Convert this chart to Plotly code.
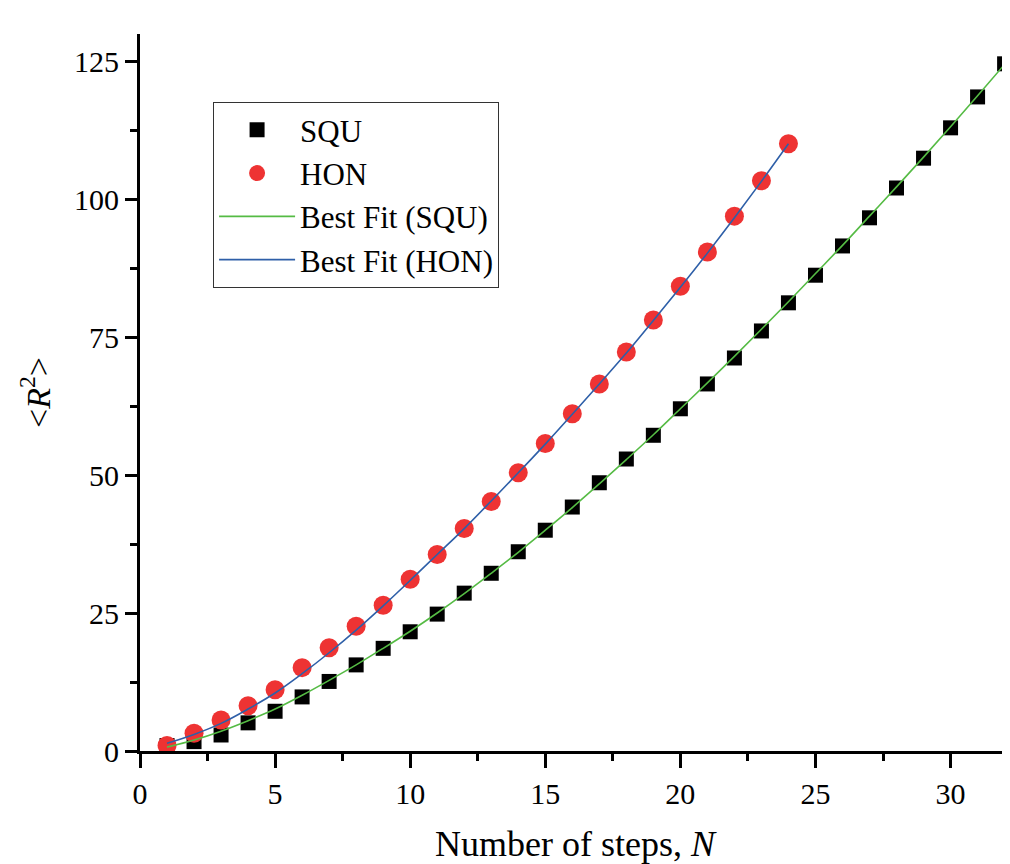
import plotly.graph_objects as go

# Data
n_squ = list(range(1, 33))
r2_squ = [1.0, 1.7, 2.9, 5.1, 7.2, 9.8, 12.6, 15.6, 18.6, 21.6, 24.8, 28.6, 32.2, 36.1, 40.0, 44.2,
          48.6, 52.9, 57.2, 62.0, 66.5, 71.2, 76.1, 81.2, 86.2, 91.5, 96.6, 102.0, 107.4, 112.9, 118.5, 124.5]
n_hon = list(range(1, 25))
r2_hon = [1.0, 3.2, 5.6, 8.2, 11.1, 15.1, 18.7, 22.6, 26.4, 31.1, 35.6, 40.3, 45.2, 50.4, 55.7, 61.1,
          66.5, 72.3, 78.1, 84.2, 90.4, 96.9, 103.3, 110.0]
fit_squ = [0.7, 2.0, 3.6, 5.5, 7.6, 10.1, 12.8, 15.6, 18.6, 21.7, 25.0, 28.5, 32.2, 36.0, 40.0, 44.1,
           48.4, 52.8, 57.3, 62.0, 66.7, 71.5, 76.4, 81.4, 86.5, 91.6, 96.9, 102.2, 107.6, 113.1, 118.7, 124.4]
fit_hon = [1.4, 3.0, 5.0, 7.6, 10.5, 14.0, 17.8, 21.9, 26.3, 30.9, 35.6, 40.3, 45.3, 50.4, 55.6, 61.0,
           66.5, 72.1, 78.0, 84.0, 90.2, 96.6, 103.2, 110.0]

x_range = [0, 32.2]
y_range = [0, 129.9]

FONT = "Liberation Serif"

fig = go.Figure()
fig.add_trace(go.Scatter(x=n_squ, y=r2_squ, mode="markers", name="SQU",
                         marker=dict(symbol="square", size=15, color="black",
                                     line=dict(width=0))))
fig.add_trace(go.Scatter(x=n_hon, y=r2_hon, mode="markers", name="HON",
                         marker=dict(symbol="circle", size=19, color="#EE3333",
                                     line=dict(width=0))))
fig.add_trace(go.Scatter(x=n_squ, y=fit_squ, mode="lines", name="Best Fit (SQU)",
                         line=dict(color="#55BB44", width=1.6, shape="spline")))
fig.add_trace(go.Scatter(x=n_hon, y=fit_hon, mode="lines", name="Best Fit (HON)",
                         line=dict(color="#2E5FA8", width=1.6, shape="spline")))

# the page body adds an 8px offset, so the figure is sized/margined to compensate
fig.update_layout(
    width=1002, height=856,
    margin=dict(l=132, r=0, t=26, b=113),
    paper_bgcolor="white", plot_bgcolor="white",
    font=dict(family=FONT, color="black", size=30),
    showlegend=True,
    legend=dict(x=0.084, y=0.905, xanchor="left", yanchor="top",
                bgcolor="white", bordercolor="#333333", borderwidth=1,
                font=dict(family=FONT, size=31), itemwidth=76,
                tracegroupgap=0),
    xaxis=dict(range=x_range, dtick=5, tick0=0, showgrid=False, zeroline=False,
               automargin=False,
               showline=True, linecolor="black", linewidth=3,
               ticks="outside", ticklen=14, tickwidth=3, tickcolor="black",
               minor=dict(dtick=2.5, tick0=0, ticks="outside", ticklen=7, tickwidth=3,
                          tickcolor="black", showgrid=False),
               tickfont=dict(family=FONT, size=30),
               title=dict(text="Number of steps, <i>N</i>", font=dict(family=FONT, size=36),
                          standoff=22)),
    xaxis2=dict(range=x_range, overlaying="x", side="top", anchor="y", matches="x",
                automargin=False,
                dtick=5, tick0=0, showgrid=False, zeroline=False,
                showline=True, linecolor="black", linewidth=3,
                ticks="inside", ticklen=13, tickwidth=3, tickcolor="black",
                minor=dict(dtick=2.5, tick0=0, ticks="inside", ticklen=7, tickwidth=3,
                           tickcolor="black", showgrid=False),
                showticklabels=False),
    yaxis=dict(range=y_range, dtick=25, tick0=0, showgrid=False, zeroline=False,
               automargin=False,
               showline=True, linecolor="black", linewidth=3,
               ticks="outside", ticklen=12, tickwidth=3, tickcolor="black",
               minor=dict(dtick=12.5, tick0=0, ticks="outside", ticklen=7, tickwidth=3,
                          tickcolor="black", showgrid=False),
               tickfont=dict(family=FONT, size=30),
               title=dict(text="&lt;<i>R</i><sup>2</sup>&gt;", font=dict(family=FONT, size=34),
                          standoff=14)),
)

fig.write_html("out.html")
